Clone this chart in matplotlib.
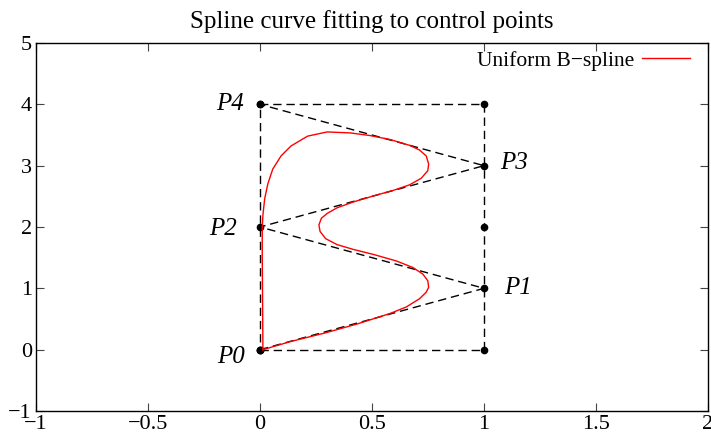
import matplotlib.pyplot as plt

# Control points (labelled) and the extra frame points
ctrl_x = [0, 1, 0, 1, 0]
ctrl_y = [0, 1, 2, 3, 4]
ctrl_names = ["P0", "P1", "P2", "P3", "P4"]
frame_x = [0, 1, 1, 1, 0, 0]
frame_y = [0, 0, 2, 4, 4, 0]

# Uniform B-spline curve
curve_x = [0.013, 0.138, 0.286, 0.433, 0.580, 0.653, 0.712, 0.742, 0.753, 0.749,
           0.727, 0.683, 0.609, 0.506, 0.418, 0.344, 0.293, 0.268, 0.263, 0.274,
           0.300, 0.344, 0.418, 0.506, 0.595, 0.668, 0.720, 0.749, 0.753, 0.742,
           0.712, 0.668, 0.580, 0.491, 0.403, 0.300, 0.212, 0.138, 0.094, 0.057,
           0.035, 0.021, 0.013, 0.010, 0.010, 0.013]
curve_y = [0.000, 0.134, 0.268, 0.418, 0.589, 0.696, 0.830, 0.937, 1.017, 1.124,
           1.232, 1.339, 1.446, 1.553, 1.633, 1.713, 1.810, 1.928, 2.035, 2.142,
           2.222, 2.313, 2.410, 2.506, 2.597, 2.688, 2.795, 2.918, 3.025, 3.159,
           3.256, 3.331, 3.427, 3.491, 3.534, 3.550, 3.481, 3.320, 3.159, 2.945,
           2.704, 2.463, 2.196, 1.992, 1.553, 0.000]

xticks = [-1, -0.5, 0, 0.5, 1, 1.5, 2]
xtick_labels = ["\u22121", "\u22120.5", "0", "0.5", "1", "1.5", "2"]
yticks = [-1, 0, 1, 2, 3, 4, 5]
ytick_labels = ["\u22121", "0", "1", "2", "3", "4", "5"]

SERIF = "Liberation Serif"

fig = plt.figure(figsize=(7.11, 4.40), dpi=100)
ax = fig.add_axes([36 / 711, 1 - 411 / 440, 672 / 711, 368 / 440])

# dashed control polygon and frame
ax.plot(ctrl_x, ctrl_y, color="black", lw=1, linestyle=(0, (6, 3.5)), zorder=2)
ax.plot(frame_x, frame_y, color="black", lw=1, linestyle=(0, (6, 3.5)), zorder=2)
ax.plot(ctrl_x + frame_x, ctrl_y + frame_y, "o", color="black", ms=4.5, zorder=3)

# spline
ax.plot(curve_x, curve_y, color="red", lw=1, zorder=4, label="Uniform B\u2212spline")

# point labels
label_off = {"P0": (-0.13, -0.12), "P1": (0.152, 0.01), "P2": (-0.165, -0.03),
             "P3": (0.136, 0.04), "P4": (-0.136, 0.01)}
for x, y, name in zip(ctrl_x, ctrl_y, ctrl_names):
    dx, dy = label_off[name]
    ax.text(x + dx, y + dy, name, fontsize=18, fontstyle="italic", family=SERIF,
            ha="center", va="center")

ax.set_xlim(-1, 2)
ax.set_ylim(-1, 5)
ax.set_xticks(xticks)
ax.set_xticklabels(xtick_labels, family=SERIF, fontsize=16)
ax.set_yticks(yticks)
ax.set_yticklabels(ytick_labels, family=SERIF, fontsize=16)
ax.tick_params(direction="in", length=6, width=0.8, color="#444444",
               top=True, right=True, pad=3)
for s in ax.spines.values():
    s.set_linewidth(1)

ax.set_title("Spline curve fitting to control points", family=SERIF, fontsize=18, pad=11)

leg = ax.legend(loc="upper right", bbox_to_anchor=(0.973, 0.979), frameon=False,
                markerfirst=False, prop={"family": SERIF, "size": 15.5},
                handlelength=2.2, handletextpad=0.37, borderaxespad=0, borderpad=0)

fig.savefig("out.png", dpi=100)
